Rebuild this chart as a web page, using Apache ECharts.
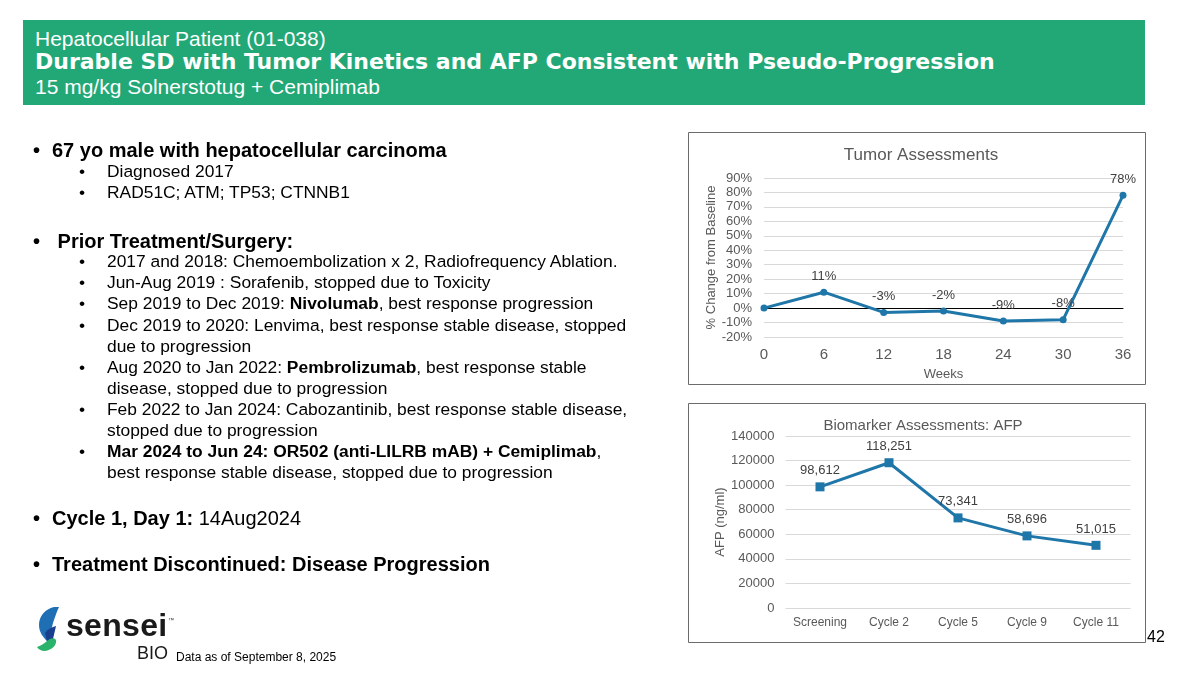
<!DOCTYPE html>
<html>
<head>
<meta charset="utf-8">
<script src="https://cdn.jsdelivr.net/npm/echarts@6/dist/echarts.min.js"></script>
<style>
  html, body { margin: 0; padding: 0; background: #fff; }
  #page { position: relative; width: 1200px; height: 675px; overflow: hidden; font-family: "Liberation Sans", Arial, sans-serif; color: #000; }
  #chart { position: absolute; left: 0; top: 0; width: 1200px; height: 675px; }
  .hdr { position: absolute; left: 23px; top: 20px; width: 1122px; height: 85px; background: #22A876; }
  .t { position: absolute; white-space: nowrap; }
  .h1 { left: 35px; top: 27px; font-size: 21px; color: #fff; }
  .h2 { left: 35px; top: 49px; font-size: 22px; color: #fff; font-family: "DejaVu Sans", Verdana, sans-serif; font-weight: bold; }
  .h3 { left: 35px; top: 75px; font-size: 21px; color: #fff; }
  .m { font-size: 20px; font-weight: bold; line-height: 22px; }
  .s { font-size: 17.4px; line-height: 21px; }
  .foot { font-size: 12px; }
  svg { position: absolute; left: 0; top: 0; }
</style>
</head>
<body>
<div id="page">
  <div class="hdr"></div>
  <div class="t h1">Hepatocellular Patient (01-038)</div>
  <div class="t h2">Durable SD with Tumor Kinetics and AFP Consistent with Pseudo-Progression</div>
  <div class="t h3">15 mg/kg Solnerstotug + Cemiplimab</div>
  <div id="chart"></div>
  <div id="txt"></div>
  <svg width="200" height="675" viewBox="0 0 200 675">
    <path d="M54,607 C45,609 39,616 39,625 C39,632 43,637 47,641 L53,640 C51,635 51,629 53,623 C55,617 57,611 59,607 Z" fill="#1F6FB5"/>
    <path d="M45,633 C48,629 52,627 56,626 L53,639 L47,641 Z" fill="#1B3F8F"/>
    <path d="M47,641 C50,638 54,637 56,640 C57,645 52,650 45,651 C41,651 38,649 37,647 C40,646 44,644 47,641 Z" fill="#2BB36B"/>
  </svg>
  <div class="t" style="left:66px; top:607px; font-size:32px; font-weight:bold; color:#1a1a1a; letter-spacing:0.3px;">sensei</div>
  <div class="t" style="left:168px; top:617px; font-size:6px; color:#333;">™</div>
  <div class="t" style="left:137px; top:643px; font-size:18px; color:#1a1a1a;">BIO</div>
  <div class="t foot" style="left:176px; top:650px;">Data as of September 8, 2025</div>
  <div class="t" style="left:1147px; top:628px; font-size:16px;">42</div>
</div>
<script>
// ---- slide text ----
const mainItems = [
  { y: 150, html: "67 yo male with hepatocellular carcinoma" },
  { y: 241, html: "&nbsp;Prior Treatment/Surgery:" },
  { y: 518, html: "Cycle 1, Day 1: <span style='font-weight:normal'>14Aug2024</span>" },
  { y: 564, html: "Treatment Discontinued: Disease Progression" }
];
const subItems = [
  { y: 172, html: "Diagnosed 2017" },
  { y: 193, html: "RAD51C; ATM; TP53; CTNNB1" },
  { y: 262, html: "2017 and 2018: Chemoembolization x 2, Radiofrequency Ablation." },
  { y: 283, html: "Jun-Aug 2019 : Sorafenib, stopped due to Toxicity" },
  { y: 304, html: "Sep 2019 to Dec 2019: <b>Nivolumab</b>, best response progression" },
  { y: 326, html: "Dec 2019 to 2020: Lenvima, best response stable disease, stopped<br>due to progression" },
  { y: 368, html: "Aug 2020 to Jan 2022: <b>Pembrolizumab</b>, best response stable<br>disease, stopped due to progression" },
  { y: 410, html: "Feb 2022 to Jan 2024: Cabozantinib, best response stable disease,<br>stopped due to progression" },
  { y: 452, html: "<b>Mar 2024 to Jun 24: OR502 (anti-LILRB mAB) + Cemiplimab</b>,<br>best response stable disease, stopped due to progression" }
];
const txt = document.getElementById('txt');
let h = '';
mainItems.forEach(it => {
  h += `<div class="t m" style="left:33px; top:${it.y - 11}px;">•</div>`;
  h += `<div class="t m" style="left:52px; top:${it.y - 11}px;">${it.html}</div>`;
});
subItems.forEach(it => {
  h += `<div class="t s" style="left:79px; top:${it.y - 11}px;">•</div>`;
  h += `<div class="t s" style="left:107px; top:${it.y - 11}px;">${it.html}</div>`;
});
txt.innerHTML = h;

// ---- chart data ----
const weeks = [0, 6, 12, 18, 24, 30, 36];
const tumorChange = [0, 11, -3, -2, -9, -8, 78];
const afpCategories = ['Screening', 'Cycle 2', 'Cycle 5', 'Cycle 9', 'Cycle 11'];
const afpValues = [98612, 118251, 73341, 58696, 51015];

const lineColor = '#1F76A8';
const axisText = '#595959';
const gridColor = '#D9D9D9';

const chart = echarts.init(document.getElementById('chart'), null, { renderer: 'canvas' });
chart.setOption({
  animation: false,
  textStyle: { fontFamily: 'Liberation Sans, Arial, sans-serif' },
  title: [
    { text: 'Tumor Assessments', left: 916, top: 142, textAlign: 'center',
      textStyle: { fontSize: 17, fontWeight: 'normal', color: axisText } },
    { text: 'Biomarker Assessments: AFP', left: 918, top: 413, textAlign: 'center',
      textStyle: { fontSize: 15, fontWeight: 'normal', color: axisText } }
  ],
  graphic: [
    { type: 'rect', shape: { x: 688.5, y: 132.5, width: 457, height: 252 }, style: { fill: 'none', stroke: '#6B6B6B', lineWidth: 1 } },
    { type: 'rect', shape: { x: 688.5, y: 403.5, width: 457, height: 239 }, style: { fill: 'none', stroke: '#6B6B6B', lineWidth: 1 } }
  ],
  grid: [
    { left: 764, right: 77, top: 178, bottom: 338 },
    { left: 785.5, right: 69.5, top: 436, bottom: 67 }
  ],
  xAxis: [
    { type: 'value', gridIndex: 0, min: 0, max: 36, interval: 6,
      axisLine: { show: true, onZero: true, lineStyle: { color: '#000', width: 1 } },
      axisTick: { show: false }, splitLine: { show: false },
      axisLabel: { color: axisText, fontSize: 15, margin: 10,
        formatter: v => String(v) },
      name: 'Weeks', nameLocation: 'middle', nameGap: 31,
      nameTextStyle: { color: axisText, fontSize: 13 } },
    { type: 'category', gridIndex: 1, data: afpCategories, boundaryGap: true,
      axisLine: { show: false }, axisTick: { show: false },
      axisLabel: { color: axisText, fontSize: 12, margin: 9, interval: 0 } }
  ],
  yAxis: [
    { type: 'value', gridIndex: 0, min: -20, max: 90, interval: 10,
      axisLine: { show: false }, axisTick: { show: false },
      splitLine: { lineStyle: { color: gridColor, width: 1 } },
      axisLabel: { color: axisText, fontSize: 13, margin: 12, formatter: v => v + '%' },
      name: '% Change from Baseline', nameLocation: 'middle', nameGap: 46,
      nameTextStyle: { color: axisText, fontSize: 13 } },
    { type: 'value', gridIndex: 1, min: 0, max: 140000, interval: 20000,
      axisLine: { show: false }, axisTick: { show: false },
      splitLine: { lineStyle: { color: gridColor, width: 1 } },
      axisLabel: { color: axisText, fontSize: 13, margin: 11, formatter: v => String(v) },
      name: 'AFP (ng/ml)', nameLocation: 'middle', nameGap: 55,
      nameTextStyle: { color: axisText, fontSize: 13 } }
  ],
  series: [
    { type: 'line', xAxisIndex: 0, yAxisIndex: 0,
      data: weeks.map((w, i) => [w, tumorChange[i]]),
      symbol: 'circle', symbolSize: 7,
      lineStyle: { color: lineColor, width: 3 },
      itemStyle: { color: lineColor },
      label: { show: true, position: 'top', distance: 6, color: '#404040', fontSize: 13,
        formatter: p => (p.dataIndex === 0 ? '' : p.value[1] + '%') } },
    { type: 'line', xAxisIndex: 1, yAxisIndex: 1,
      data: afpValues,
      symbol: 'rect', symbolSize: 9,
      lineStyle: { color: lineColor, width: 3 },
      itemStyle: { color: lineColor },
      label: { show: true, position: 'top', distance: 5, color: '#404040', fontSize: 13,
        formatter: p => p.value.toLocaleString('en-US') } }
  ]
});
</script>
</body>
</html>
